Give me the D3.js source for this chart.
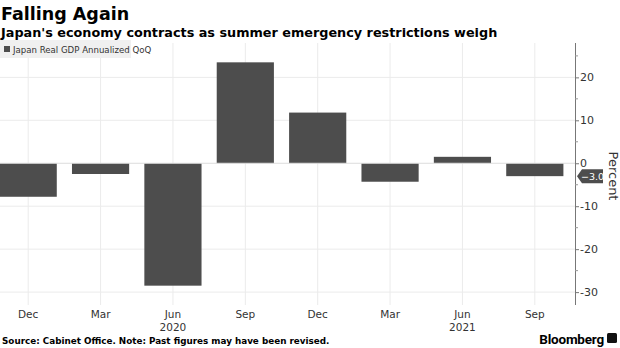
<!DOCTYPE html>
<html>
<head>
<meta charset="utf-8">
<script src="https://cdn.jsdelivr.net/npm/d3@7"></script>
<style>
  body { margin: 0; background: #fff; }
  svg { display: block; font-family: "DejaVu Sans", sans-serif; }
</style>
</head>
<body>
<svg id="chart" width="620" height="348"></svg>
<script>
// ---- data ----
const quarters = ["Dec 2019","Mar 2020","Jun 2020","Sep 2020","Dec 2020","Mar 2021","Jun 2021","Sep 2021"];
const monthLabels = ["Dec","Mar","Jun","Sep","Dec","Mar","Jun","Sep"];
const gdpValues = [-7.8, -2.5, -28.5, 23.5, 11.8, -4.3, 1.5, -3.0];
const yearLabels = [{ at: "Jun 2020", text: "2020" }, { at: "Jun 2021", text: "2021" }];
const yTicks = [20, 10, 0, -10, -20, -30];

const svg = d3.select("#chart");
const W = 620, H = 348;
const plotL = 0, plotR = 575, plotT = 43, plotB = 305;

const x = d3.scaleBand().domain(quarters).range([-8, 571]).paddingInner(0.21).paddingOuter(0.105);
const y = d3.scaleLinear().domain([-33, 28]).range([plotB, plotT]);

// title
svg.append("text").attr("x", 1).attr("y", 20)
  .attr("font-size", 17.5).attr("font-weight", "bold").attr("fill", "#000")
  .text("Falling Again");
svg.append("text").attr("x", 1).attr("y", 36.5)
  .attr("font-size", 12.8).attr("font-weight", "bold").attr("fill", "#000")
  .text("Japan's economy contracts as summer emergency restrictions weigh");

// grid
const grid = svg.append("g");
grid.selectAll("line.h").data(yTicks.filter(d => d !== 0)).join("line")
  .attr("x1", plotL).attr("x2", plotR)
  .attr("y1", d => y(d)).attr("y2", d => y(d))
  .attr("stroke", "#ebebeb").attr("stroke-width", 1);
grid.selectAll("line.v").data(quarters).join("line")
  .attr("x1", d => x(d) + x.bandwidth() / 2).attr("x2", d => x(d) + x.bandwidth() / 2)
  .attr("y1", plotT).attr("y2", plotB)
  .attr("stroke", "#ebebeb").attr("stroke-width", 1);

// legend
svg.append("rect").attr("x", 0).attr("y", 40).attr("width", 131).attr("height", 18).attr("fill", "#f0f0f0");
svg.append("rect").attr("x", 4).attr("y", 46).attr("width", 6).attr("height", 6).attr("fill", "#4d4d4d");
svg.append("text").attr("x", 13).attr("y", 52.5).attr("font-size", 8.6).attr("fill", "#333")
  .text("Japan Real GDP Annualized QoQ");

// bars
svg.append("g").selectAll("rect").data(quarters).join("rect")
  .attr("x", d => x(d))
  .attr("width", x.bandwidth())
  .attr("y", (d, i) => y(Math.max(0, gdpValues[i])))
  .attr("height", (d, i) => Math.abs(y(gdpValues[i]) - y(0)))
  .attr("fill", "#4d4d4d");

// zero line
svg.append("line").attr("x1", plotL).attr("x2", plotR).attr("y1", y(0)).attr("y2", y(0))
  .attr("stroke", "#dcdcdc").attr("stroke-width", 1);

// y axis
const yAxis = svg.append("g").attr("transform", `translate(${plotR},0)`)
  .call(d3.axisRight(y).tickValues(yTicks).tickSize(4).tickFormat(d => d));
yAxis.select(".domain").attr("stroke", "#777").attr("d", `M0.5,${plotT}V${plotB}`);
yAxis.selectAll(".tick line").attr("stroke", "#777");
yAxis.selectAll(".tick text").attr("font-size", 11).attr("fill", "#333").attr("x", 5)
  .attr("font-family", "DejaVu Sans, sans-serif");
svg.append("g").selectAll("line").data(d3.range(-30, 26, 5).filter(d => d % 10 !== 0)).join("line")
  .attr("x1", plotR).attr("x2", plotR + 3)
  .attr("y1", d => y(d)).attr("y2", d => y(d)).attr("stroke", "#999");

// last value tag
const last = gdpValues[gdpValues.length - 1];
const ty = y(last);
svg.append("path")
  .attr("d", `M${plotR + 2},${ty} L${plotR + 7},${ty - 7} H${plotR + 28} V${ty + 7} H${plotR + 7} Z`)
  .attr("fill", "#4d4d4d");
svg.append("text").attr("x", plotR + 17.5).attr("y", ty + 3.5)
  .attr("text-anchor", "middle").attr("font-size", 9.5).attr("fill", "#fff")
  .text(d3.format(".1f")(last));

svg.append("text")
  .attr("transform", `translate(609,176) rotate(90)`)
  .attr("text-anchor", "middle").attr("font-size", 13).attr("fill", "#333")
  .text("Percent");

// x labels
svg.append("g").selectAll("text").data(quarters).join("text")
  .attr("x", d => x(d) + x.bandwidth() / 2).attr("y", 318)
  .attr("text-anchor", "middle").attr("font-size", 10.5).attr("fill", "#333")
  .text((d, i) => monthLabels[i]);
svg.append("g").selectAll("text").data(yearLabels).join("text")
  .attr("x", d => x(d.at) + x.bandwidth() / 2).attr("y", 331)
  .attr("text-anchor", "middle").attr("font-size", 10.5).attr("fill", "#333")
  .text(d => d.text);

// footer
svg.append("text").attr("x", 2).attr("y", 344).attr("font-size", 8.8).attr("font-weight", "bold").attr("fill", "#000")
  .text("Source: Cabinet Office. Note: Past figures may have been revised.");
svg.append("text").attr("x", 604).attr("y", 344).attr("text-anchor", "end")
  .attr("font-size", 13.5).attr("font-weight", "bold").attr("fill", "#000")
  .attr("font-family", "Roboto, sans-serif").attr("letter-spacing", -0.2)
  .text("Bloomberg");
svg.append("rect").attr("x", 607).attr("y", 333).attr("width", 10).attr("height", 10).attr("rx", 1.5).attr("fill", "#111");
</script>
</body>
</html>
